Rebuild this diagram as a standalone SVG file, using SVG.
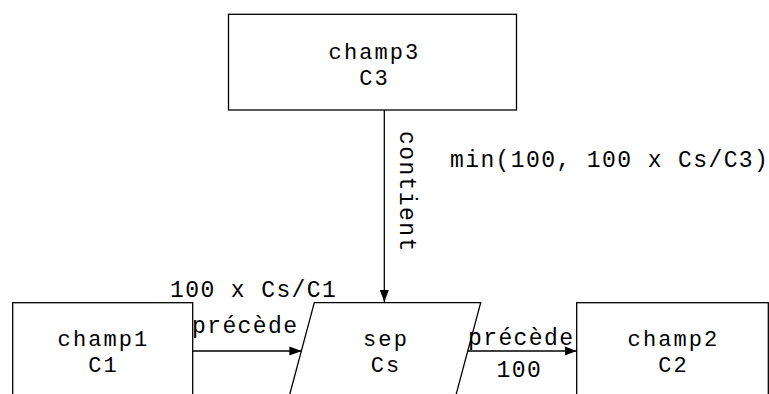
<svg xmlns="http://www.w3.org/2000/svg" width="769" height="394" viewBox="0 0 769 394">
<style>
.shape{fill:#fff;stroke:#000;stroke-width:1.3}
.ntext{font-family:"Liberation Mono","Courier New",monospace;font-size:22px;letter-spacing:2.1px;text-anchor:middle;fill:#000}
.etext{font-family:"Liberation Mono","Courier New",monospace;font-size:23px;letter-spacing:1.4px;fill:#000}
.edge{fill:none;stroke:#000;stroke-width:1.3}
</style>
<defs>
<marker id="arr" viewBox="0 0 12 10" refX="12" refY="5" markerWidth="12" markerHeight="10" markerUnits="userSpaceOnUse" orient="auto">
<path d="M0,0.5 L12,5 L0,9.5 Z" fill="#000"/>
</marker>
</defs>
<rect width="769" height="394" fill="#fff"/>
<g id="champ3">
<rect class="shape" x="228.5" y="14.3" width="288" height="95.7"/>
<text class="ntext" x="374.5" y="58.5">champ3</text>
<text class="ntext" x="374.5" y="85">C3</text>
</g>
<g id="champ1">
<rect class="shape" x="12.7" y="302.7" width="180" height="100"/>
<text class="ntext" x="103.5" y="346">champ1</text>
<text class="ntext" x="103.5" y="372">C1</text>
</g>
<g id="sep">
<polygon class="shape" points="314.3,302.7 480.7,302.7 453.9,402.7 287.5,402.7"/>
<text class="ntext" x="386" y="346">sep</text>
<text class="ntext" x="386" y="372">Cs</text>
</g>
<g id="champ2">
<rect class="shape" x="576.7" y="302.7" width="191.6" height="100"/>
<text class="ntext" x="673.5" y="346">champ2</text>
<text class="ntext" x="673.5" y="372">C2</text>
</g>
<g id="connectors">
<line class="edge" x1="384.3" y1="110" x2="384.3" y2="302" marker-end="url(#arr)"/>
<text class="etext" transform="translate(399.5,131) rotate(90)">contient</text>
<text class="etext" x="450" y="167">min(100, 100 x Cs/C3)</text>
<line class="edge" x1="192.7" y1="351" x2="301.4" y2="351" marker-end="url(#arr)"/>
<text class="etext" x="170" y="296.7">100 x Cs/C1</text>
<text class="etext" x="192" y="333">précède</text>
<line class="edge" x1="467.8" y1="351" x2="576.7" y2="351" marker-end="url(#arr)"/>
<text class="etext" x="468" y="345">précède</text>
<text class="etext" x="496.5" y="377.3">100</text>
</g>
</svg>
